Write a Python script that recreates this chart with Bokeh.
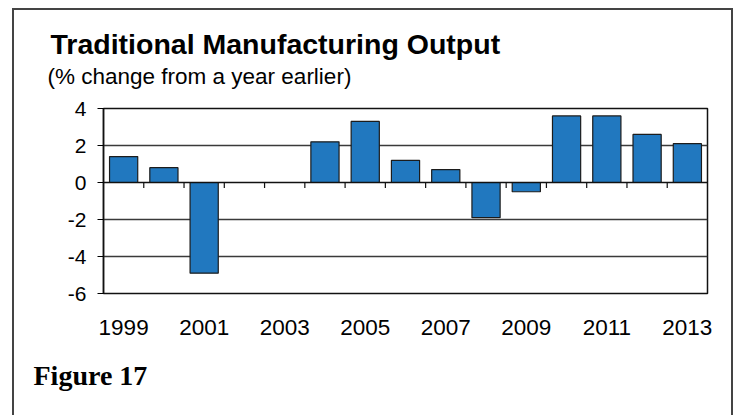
from bokeh.plotting import figure
from bokeh.models import (Range1d, Span, FixedTicker, ColumnDataSource,
                          CustomJSTickFormatter, Title)
from bokeh.embed import file_html
from bokeh.resources import INLINE

# Annual % change in traditional manufacturing output
years = list(range(1999, 2014))
change = [1.4, 0.8, -4.9, 0.0, 0.0, 2.2, 3.3, 1.2, 0.7, -1.9, -0.5, 3.6, 3.6, 2.6, 2.1]
y_ticks = [-6, -4, -2, 0, 2, 4]
x_label_years = [1999, 2001, 2003, 2005, 2007, 2009, 2011, 2013]

W, H = 736, 415
FL, FR, FT, FB = 103, 707, 108, 293   # plot frame edges on the canvas

# thin rules around the whole panel (left, top and right edges)
frame_css = ("linear-gradient(#444444,#444444) 12px 8px / 2px 430px no-repeat, "
             "linear-gradient(#444444,#444444) 12px 8px / 721px 2px no-repeat, "
             "linear-gradient(#444444,#444444) 731px 8px / 2px 430px no-repeat, "
             "#ffffff")

p = figure(width=W, height=H, output_backend="svg", toolbar_location=None,
           title_location=None,
           x_range=Range1d(years[0] - 0.5, years[-1] + 0.5),
           y_range=Range1d(y_ticks[0], y_ticks[-1]),
           min_border_left=FL, min_border_right=W - FR,
           min_border_top=FT, min_border_bottom=H - FB,
           styles={"background": frame_css})
p.background_fill_color = "white"
p.border_fill_color = None
p.outline_line_color = "#111111"
p.outline_line_width = 1.5

# bars, plus the short category-boundary ticks hanging below the zero line,
# drawn by one vbar renderer
bounds = [y + 0.5 for y in years[:-1]]
n_b, n_t = len(years), len(bounds)
src = ColumnDataSource(dict(
    x=years + bounds,
    top=change + [0.0] * n_t,
    bottom=[0.0] * n_b + [-0.3] * n_t,
    width=[0.7] * n_b + [0.03] * n_t,
    fill=["#2178BF"] * n_b + ["#111111"] * n_t,
    line=["#1c1c1c"] * n_b + ["#111111"] * n_t,
    lw=[1.2] * n_b + [0.0] * n_t,
))
p.vbar(x="x", top="top", bottom="bottom", width="width", source=src,
       fill_color="fill", line_color="line", line_width="lw")

# zero line
p.add_layout(Span(location=0, dimension="width", line_color="#111111", line_width=1.5))

# y axis
p.yaxis.ticker = FixedTicker(ticks=y_ticks)
p.yaxis.formatter = CustomJSTickFormatter(code="return tick.toString();")
p.yaxis.axis_line_color = "#111111"
p.yaxis.axis_line_width = 1.5
p.yaxis.major_tick_in = 0
p.yaxis.major_tick_out = 6
p.yaxis.minor_tick_line_color = None
p.yaxis.major_label_text_font = "Liberation Sans"
p.yaxis.major_label_text_font_size = "21px"
p.yaxis.major_label_text_color = "black"
p.yaxis.major_label_standoff = 11

# x axis: labels only
p.xaxis.ticker = FixedTicker(ticks=x_label_years)
p.xaxis.axis_line_color = None
p.xaxis.major_tick_line_color = None
p.xaxis.minor_tick_line_color = None
p.xaxis.major_label_text_font = "Liberation Sans"
p.xaxis.major_label_text_font_size = "22.5px"
p.xaxis.major_label_text_color = "black"
p.xaxis.major_label_standoff = 20

# grid
p.xgrid.grid_line_color = None
p.ygrid.ticker = FixedTicker(ticks=[-4, -2, 2])
p.ygrid.grid_line_color = "#3a3a3a"
p.ygrid.grid_line_width = 1.3

# titles above the plot (subtitle first: it sits next to the frame)
subtitle = Title(text="(% change from a year earlier)", align="left",
                 offset=47 - FL, standoff=40,
                 text_font="Liberation Sans", text_font_style="normal",
                 text_font_size="22.5px", text_color="black")
main_title = Title(text="Traditional Manufacturing Output", align="left",
                   offset=50 - FL, standoff=0,
                   text_font="Liberation Sans", text_font_style="bold",
                   text_font_size="28.5px", text_color="black")
try:
    main_title.standoff = -36
except ValueError:
    main_title.standoff = 0
p.add_layout(subtitle, "above")
p.add_layout(main_title, "above")

# figure caption below
p.add_layout(Title(text="Figure 17", align="left", offset=33 - FL, standoff=40,
                   text_font="Liberation Serif", text_font_style="bold",
                   text_font_size="28px", text_color="black"), "below")

open("out.html", "w").write(file_html(p, INLINE))
